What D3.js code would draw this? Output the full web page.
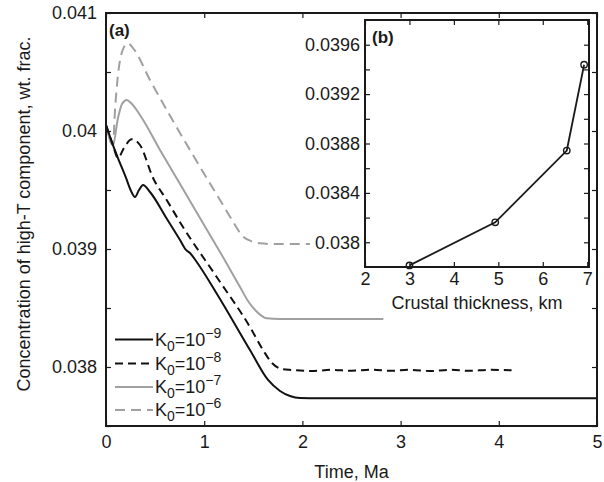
<!DOCTYPE html>
<html>
<head>
<meta charset="utf-8">
<script src="https://cdn.jsdelivr.net/npm/d3@7"></script>
<style>
  html, body { margin: 0; padding: 0; background: #fff; }
  svg text { font-family: "Liberation Sans", Arial, Helvetica, sans-serif; fill: #1a1a1a; }
</style>
</head>
<body>
<svg id="chart" width="604" height="482"></svg>
<script>
// ---------------- DATA ----------------
// Panel (a): time (Ma) and concentration (wt. frac.) for each permeability K0
const k9Time = [0, 0.071, 0.122, 0.204, 0.255, 0.295, 0.336, 0.377, 0.448, 0.621, 0.754, 0.815, 0.855, 0.917, 1.130, 1.466, 1.650, 1.772, 1.874, 1.976, 2.179, 3.0, 4.0, 5.0];
const k9Conc = [0.040051, 0.039881, 0.039771, 0.039602, 0.039492, 0.039441, 0.039500, 0.039542, 0.039483, 0.039254, 0.039076, 0.038992, 0.038966, 0.038898, 0.038619, 0.038144, 0.037890, 0.037797, 0.037754, 0.037737, 0.037735, 0.037735, 0.037735, 0.037735];

const k8Time = [0, 0.071, 0.122, 0.183, 0.262, 0.346, 0.479, 0.618, 0.784, 1.127, 1.466, 1.599, 1.690, 1.792, 1.894, 2.1, 2.3, 2.5, 2.7, 2.9, 3.1, 3.3, 3.5, 3.7, 3.9, 4.13];
const k8Conc = [0.040051, 0.039881, 0.039771, 0.039856, 0.039930, 0.039881, 0.039602, 0.039415, 0.039186, 0.038763, 0.038339, 0.038144, 0.038034, 0.037983, 0.037975, 0.037966, 0.037976, 0.037968, 0.037978, 0.037968, 0.037976, 0.037966, 0.037976, 0.037968, 0.037976, 0.037972];

const k7Time = [0, 0.071, 0.122, 0.163, 0.211, 0.255, 0.346, 0.550, 0.784, 0.957, 1.191, 1.365, 1.446, 1.528, 1.636, 1.772, 2.824];
const k7Conc = [0.040051, 0.039881, 0.040110, 0.040229, 0.040263, 0.040237, 0.040136, 0.039839, 0.039508, 0.039263, 0.038932, 0.038678, 0.038559, 0.038475, 0.038413, 0.038407, 0.038407];

const k6Time = [0, 0.071, 0.092, 0.122, 0.163, 0.221, 0.275, 0.448, 0.855, 1.161, 1.263, 1.398, 1.487, 1.568, 1.721, 2.077];
const k6Conc = [0.040051, 0.039881, 0.040178, 0.040475, 0.040669, 0.040743, 0.040703, 0.040432, 0.039839, 0.039415, 0.039274, 0.039104, 0.039064, 0.039048, 0.039042, 0.039042];

const seriesExponents = ["−9", "−8", "−7", "−6"];

// Panel (b): crustal thickness (km) vs concentration
const insetThickness = [3.0, 4.93, 6.54, 6.93];
const insetConc = [0.037813, 0.038162, 0.038743, 0.039438];

// Tick values / labels
const mainXTicks = [0, 1, 2, 3, 4, 5];
const mainYTicks = [0.0375, 0.038, 0.0385, 0.039, 0.0395, 0.04, 0.0405, 0.041];
const mainYLabels = {"0.038": "0.038", "0.039": "0.039", "0.04": "0.04", "0.041": "0.041"};
const insetXTicks = [2, 3, 4, 5, 6, 7];
const insetYTicks = [0.038, 0.0382, 0.0384, 0.0386, 0.0388, 0.039, 0.0392, 0.0394, 0.0396];
const insetYLabels = {"0.038": "0.038", "0.0384": "0.0384", "0.0388": "0.0388", "0.0392": "0.0392", "0.0396": "0.0396"};

// ---------------- DRAW ----------------
const svg = d3.select("#chart");
const FS = 18;

// Main axes box
const M = {left: 106, right: 597, top: 13, bottom: 426};
const x = d3.scaleLinear().domain([0, 5]).range([M.left, M.right]);
const y = d3.scaleLinear().domain([0.0375, 0.041]).range([M.bottom, M.top]);

const keyOf = v => String(+v.toFixed(5));

function styleAxis(g) {
  g.select(".domain").remove();
  g.selectAll(".tick line").attr("stroke", "#1a1a1a").attr("stroke-width", 1.2);
  g.selectAll(".tick text").attr("font-size", FS).attr("fill", "#1a1a1a")
    .style("font-family", '"Liberation Sans", Arial, sans-serif');
}

svg.append("g").attr("transform", `translate(0,${M.bottom})`)
  .call(d3.axisBottom(x).tickValues(mainXTicks).tickSize(-5).tickPadding(9).tickFormat(d3.format("d")))
  .call(styleAxis);
svg.append("g").attr("transform", `translate(0,${M.top})`)
  .call(d3.axisTop(x).tickValues(mainXTicks).tickSize(-5).tickFormat(""))
  .call(styleAxis);
svg.append("g").attr("transform", `translate(${M.left},0)`)
  .call(d3.axisLeft(y).tickValues(mainYTicks).tickSize(-5).tickPadding(9)
    .tickFormat(d => mainYLabels[keyOf(d)] || ""))
  .call(styleAxis);
svg.append("g").attr("transform", `translate(${M.right},0)`)
  .call(d3.axisRight(y).tickValues(mainYTicks).tickSize(-5).tickFormat(""))
  .call(styleAxis);

// Clip for curves
svg.append("clipPath").attr("id", "mainClip").append("rect")
  .attr("x", M.left).attr("y", M.top).attr("width", M.right - M.left).attr("height", M.bottom - M.top);

const line = d3.line().x(d => x(d[0])).y(d => y(d[1])).curve(d3.curveMonotoneX);
const zip = (a, b) => a.map((t, i) => [t, b[i]]);

const series = [
  {data: zip(k9Time, k9Conc), color: "#111", dash: null},
  {data: zip(k8Time, k8Conc), color: "#111", dash: "8,5"},
  {data: zip(k7Time, k7Conc), color: "#a0a0a0", dash: null},
  {data: zip(k6Time, k6Conc), color: "#a0a0a0", dash: "10,6"}
];

const curves = svg.append("g").attr("clip-path", "url(#mainClip)");
// draw gray first, black on top
[3, 2, 1, 0].forEach(i => {
  const s = series[i];
  curves.append("path").attr("d", line(s.data)).attr("fill", "none")
    .attr("stroke", s.color).attr("stroke-width", 2)
    .attr("stroke-dasharray", s.dash).attr("stroke-linejoin", "round");
});

// Main frame
svg.append("rect").attr("x", M.left).attr("y", M.top)
  .attr("width", M.right - M.left).attr("height", M.bottom - M.top)
  .attr("fill", "none").attr("stroke", "#1a1a1a").attr("stroke-width", 2);

// Labels
svg.append("text").attr("x", (M.left + M.right) / 2 + 0).attr("y", 478)
  .attr("text-anchor", "middle").attr("font-size", FS).text("Time, Ma");
svg.append("text").attr("transform", `translate(30,214) rotate(-90)`)
  .attr("text-anchor", "middle").attr("font-size", FS)
  .text("Concentration of high-T component, wt. frac.");
svg.append("text").attr("x", 109).attr("y", 36).attr("font-size", 17)
  .attr("font-weight", "bold").text("(a)");

// Legend
const legY = [339.5, 363.5, 387, 410];
series.forEach((s, i) => {
  const ly = legY[i];
  svg.append("line").attr("x1", 115).attr("x2", 153).attr("y1", ly).attr("y2", ly)
    .attr("stroke", s.color).attr("stroke-width", 2).attr("stroke-dasharray", s.dash);
  const t = svg.append("text").attr("x", 155).attr("y", ly + 6).attr("font-size", FS);
  t.append("tspan").text("K");
  t.append("tspan").attr("font-size", 14).attr("dy", 5).text("0");
  t.append("tspan").attr("dy", -5).text("=10");
  t.append("tspan").attr("font-size", 14).attr("dy", -8).text(seriesExponents[i]);
});

// ---------------- INSET (b) ----------------
const I = {left: 365, right: 589, top: 20, bottom: 267};
const xi = d3.scaleLinear().domain([2, 7.04]).range([I.left, I.right]);
const yi = d3.scaleLinear().domain([0.0378, 0.0398]).range([I.bottom, I.top]);

svg.append("rect").attr("x", I.left).attr("y", I.top)
  .attr("width", I.right - I.left).attr("height", I.bottom - I.top).attr("fill", "#fff");

svg.append("g").attr("transform", `translate(0,${I.bottom})`)
  .call(d3.axisBottom(xi).tickValues(insetXTicks).tickSize(-5).tickPadding(5).tickFormat(d3.format("d")))
  .call(styleAxis);
svg.append("g").attr("transform", `translate(0,${I.top})`)
  .call(d3.axisTop(xi).tickValues(insetXTicks).tickSize(-5).tickFormat(""))
  .call(styleAxis);
svg.append("g").attr("transform", `translate(${I.left},0)`)
  .call(d3.axisLeft(yi).tickValues(insetYTicks).tickSize(-5).tickPadding(5)
    .tickFormat(d => insetYLabels[keyOf(d)] || ""))
  .call(styleAxis);
svg.append("g").attr("transform", `translate(${I.right},0)`)
  .call(d3.axisRight(yi).tickValues(insetYTicks).tickSize(-5).tickFormat(""))
  .call(styleAxis);

const insetData = zip(insetThickness, insetConc);
const lineI = d3.line().x(d => xi(d[0])).y(d => yi(d[1]));
svg.append("path").attr("d", lineI(insetData)).attr("fill", "none")
  .attr("stroke", "#1a1a1a").attr("stroke-width", 1.8);
svg.selectAll(".mk").data(insetData).enter().append("circle")
  .attr("cx", d => xi(d[0])).attr("cy", d => yi(d[1])).attr("r", 3.2)
  .attr("fill", "none").attr("stroke", "#1a1a1a").attr("stroke-width", 1.4);

svg.append("rect").attr("x", I.left).attr("y", I.top)
  .attr("width", I.right - I.left).attr("height", I.bottom - I.top)
  .attr("fill", "none").attr("stroke", "#1a1a1a").attr("stroke-width", 2);

svg.append("text").attr("x", (I.left + I.right) / 2).attr("y", 309)
  .attr("text-anchor", "middle").attr("font-size", FS).text("Crustal thickness, km");
svg.append("text").attr("x", 372).attr("y", 43).attr("font-size", 17)
  .attr("font-weight", "bold").text("(b)");
</script>
</body>
</html>
